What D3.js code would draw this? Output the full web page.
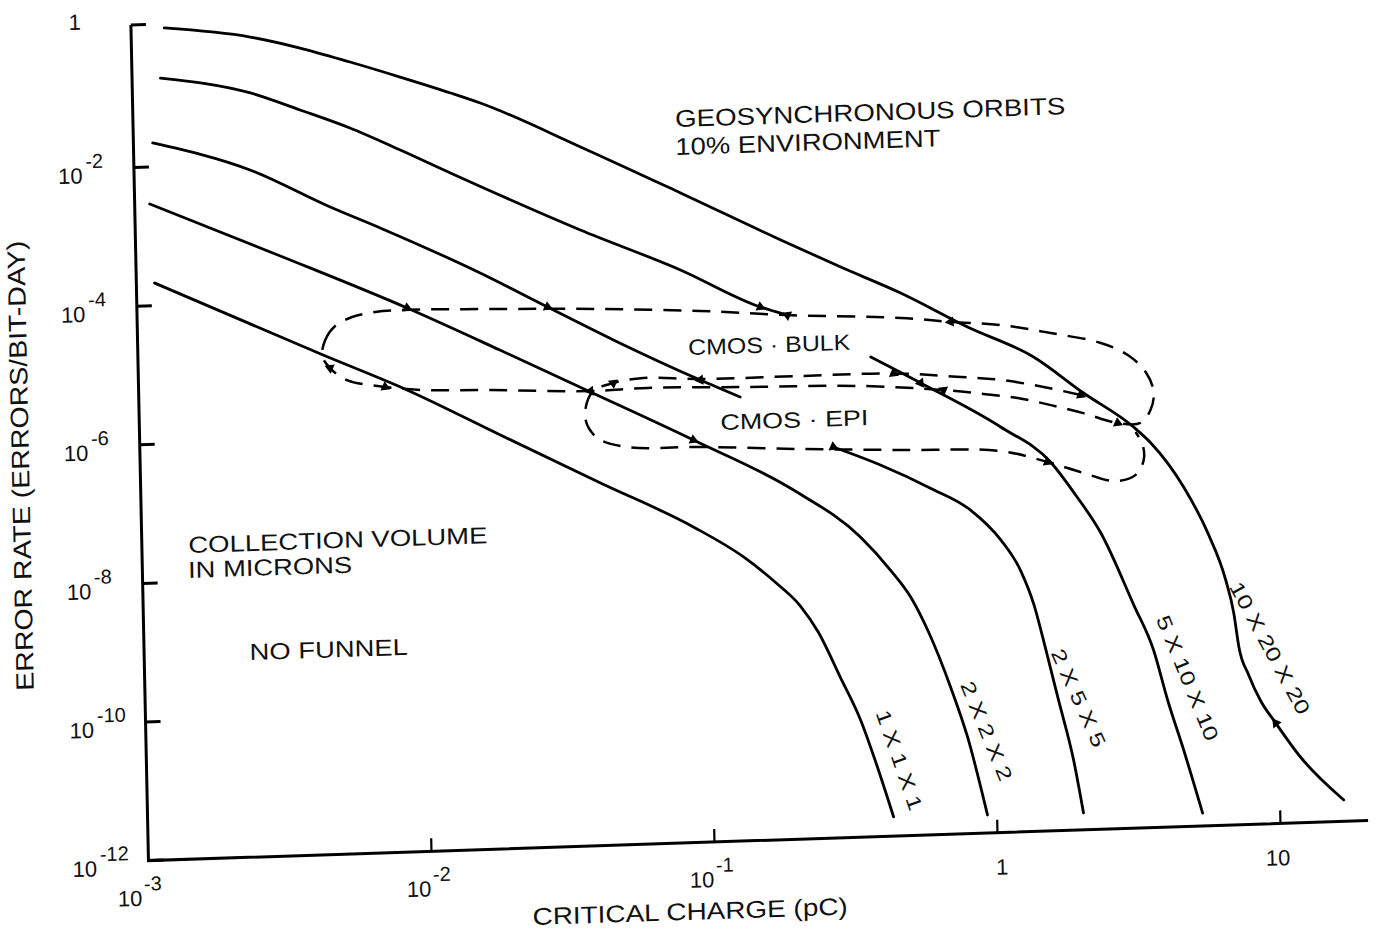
<!DOCTYPE html>
<html><head><meta charset="utf-8">
<script src="https://cdn.jsdelivr.net/npm/d3@7"></script>
<style>
html,body{margin:0;padding:0;background:#fff;}
svg{display:block;}
text{font-family:"Liberation Sans",Arial,sans-serif;fill:#111;}
</style></head><body>
<svg id="chart" width="1379" height="931"></svg>
<script>
// ---------------- data ----------------
const xTicks = [1e-3, 1e-2, 1e-1, 1, 10];
const xTickLabels = [["10","-3"],["10","-2"],["10","-1"],["1",""],["10",""]];
const yTicks = [1, 1e-2, 1e-4, 1e-6, 1e-8, 1e-10, 1e-12];
const yTickLabels = [["1",""],["10","-2"],["10","-4"],["10","-6"],["10","-8"],["10","-10"],["10","-12"]];

// critical charge (pC), error rate (errors/bit-day); [null,null] = gap in the drawn line
const curve10x20x20 = [[0.00131,1.0],[0.00263,0.673],[0.00394,0.442],[0.0059,0.263],[0.00885,0.151],[0.0133,0.0843],[0.0169,0.0585],[0.0379,0.0122],[0.0848,0.00237],[0.190,4.46e-4],[0.308,1.70e-4],[0.499,6.73e-5],[0.855,2.02e-5],[1.455,6.95e-6],[2.17,1.99e-6],[3.24,6.1e-7],[3.72,3.52e-7],[4.82,7.87e-8],[5.82,1.67e-8],[6.68,3.43e-9],[7.09,1.14e-9],[7.35,3.66e-10],[7.92,1.43e-10],[8.70,5.93e-11],[9.79,2.81e-11],[11.9,8.86e-12],[16.8,2.03e-12]];
const curve5x10x10 = [[0.00126,0.19],[0.00261,0.105],[0.0039,0.0565],[0.00583,0.0294],[0.00875,0.0134],[0.0131,0.00592],[0.0373,7.74e-4],[0.0836,1.84e-4],[0.159,4.93e-5],[0.198,3.66e-5],[null,null],[0.387,8.3e-6],[0.578,3.32e-6],[1.10,7.05e-7],[1.64,2.09e-7],[2.0,6.8e-8],[2.44,1.87e-8],[3.15,1.65e-9],[3.67,3.63e-10],[4.08,6.8e-11],[4.61,1.27e-11],[5.32,1.53e-12]];
const curve2x5x5 = [[0.00117,0.0222],[0.00257,0.00814],[0.0049,0.00218],[0.00733,0.00103],[0.0164,2.07e-4],[0.0282,6.22e-5],[0.0479,1.94e-5],[0.0964,4.66e-6],[0.133,2.54e-6],[null,null],[0.281,4.36e-7],[0.411,2.28e-7],[0.615,1.0e-7],[0.849,4.62e-8],[1.08,1.66e-8],[1.26,5.97e-9],[1.40,1.84e-9],[1.53,4.09e-10],[1.68,7.67e-11],[1.88,1.03e-11],[2.02,1.75e-12]];
const curve2x2x2 = [[0.00113,0.00294],[0.00324,4.53e-4],[0.0090,7.01e-5],[0.0190,1.57e-5],[0.0394,3.53e-6],[0.0902,6.41e-7],[0.202,1.09e-7],[0.345,2.13e-8],[0.438,6.89e-9],[0.514,2.75e-9],[0.591,8.44e-10],[0.700,1.33e-10],[0.797,2.48e-11],[0.925,1.82e-12]];
const curve1x1x1 = [[0.00116,2.12e-4],[0.00451,1.61e-5],[0.00887,4.61e-6],[0.0188,9.33e-7],[0.0421,1.70e-7],[0.0889,3.57e-8],[0.133,1.25e-8],[0.1743,4.9e-9],[0.2094,2.3e-9],[0.241,9.5e-10],[0.286,2.08e-10],[0.335,4.9e-11],[0.381,1.01e-11],[0.431,1.89e-12]];

const cmosBulk = [[0.00448,1.56e-5],[0.0046,2.65e-5],[0.0050,4.18e-5],[0.00575,5.52e-5],[0.00694,6.37e-5],[0.00851,6.6e-5],[0.0192,6.12e-5],[0.0433,5.5e-5],[0.0977,4.61e-5],[0.198,3.66e-5],[0.497,2.94e-5],[0.745,2.44e-5],[1.12,2.08e-5],[1.68,1.51e-5],[2.52,1.03e-5],[3.13,6.71e-6],[3.61,3.74e-6],[3.84,1.91e-6],[3.73,1.05e-6],[3.43,6.92e-7],[2.85,7.08e-7],[2.16,1.02e-6],[1.66,1.38e-6],[1.27,1.81e-6],[0.962,2.15e-6],[0.695,2.56e-6],[0.354,3.21e-6],[0.145,3.5e-6],[0.0627,3.79e-6],[0.0394,3.64e-6],[0.0175,4.2e-6],[0.0101,4.52e-6],[0.00743,5.21e-6],[0.00545,6.85e-6],[0.00476,1.04e-5]];
const cmosEpi = [[2.12,1.87e-6],[1.57,2.54e-6],[1.11,3.37e-6],[0.802,3.88e-6],[0.465,4.7e-6],[0.218,4.77e-6],[0.0966,4.82e-6],[0.0607,5.3e-6],[0.0475,4.64e-6],[0.040,3.52e-6],[0.0376,1.5e-6],[0.0413,7.62e-7],[0.0526,5.46e-7],[0.0953,5.04e-7],[0.215,4.23e-7],[0.486,3.66e-7],[1.09,3.18e-7],[1.60,2.1e-7],[2.14,1.4e-7],[2.77,1.03e-7],[3.27,1.24e-7],[3.50,2.02e-7],[3.48,3.32e-7],[3.29,5.14e-7]];

const markerPoints = [[0.159,4.93e-5],[0.198,3.66e-5],[0.745,2.44e-5],[2.12,1.87e-6],[2.85,7.08e-7],[0.465,4.7e-6],[0.578,3.32e-6],[0.695,2.56e-6],[0.0964,4.66e-6],[0.0475,4.64e-6],[0.0394,3.64e-6],[0.00743,5.21e-6],[0.00476,1.04e-5],[0.281,4.36e-7],[0.0902,6.41e-7],[1.60,2.1e-7],[0.0282,6.22e-5],[0.0090,7.01e-5],[9.79,2.81e-11]];
const markerTurns = [90,-90,0,90,90,90,0,-90,0,-90,0,90,-90,90,90,90,90,90,180];

const curveNames = ["1 X 1 X 1","2 X 2 X 2","2 X 5 X 5","5 X 10 X 10","10 X 20 X 20"];
const curveLabelAt = [[0.456,1.24e-11],[0.931,2.96e-11],[1.98,8.0e-11],[4.82,1.38e-10],[9.45,3.42e-10]];
const noteTexts = ["GEOSYNCHRONOUS ORBITS","10% ENVIRONMENT","CMOS · BULK","CMOS · EPI","COLLECTION VOLUME","IN MICRONS","NO FUNNEL"];
const noteAt = [[0.0822,0.0213],[0.0819,0.0084],[0.0879,1.08e-5],[0.1127,8.67e-7],[0.00146,2.61e-8],[0.00145,1.14e-8],[0.00236,6.98e-10]];
const xTitle = "CRITICAL CHARGE (pC)";
const yTitle = "ERROR RATE (ERRORS/BIT-DAY)";

// ---------------- drawing ----------------
const svg = d3.select("#chart");
const xMax = 20.4;
const x = d3.scaleLog().domain([1e-3, xMax]).range([0, 283 * Math.log10(xMax / 1e-3)]);
const y = d3.scaleLog().domain([1e-12, 1]).range([69.3 * 12, 0]);
const H = y(1e-12);

// the scanned original is slightly rotated; reproduce with an affine frame
const g = svg.append("g").attr("transform", "matrix(1,-0.0329,0.021,1,131,29)");

// axes
g.append("path")
  .attr("d", `M0,${y(1) - 4}V${H}H${x(xMax)}`)
  .attr("fill", "none").attr("stroke", "#000").attr("stroke-width", 3);
g.selectAll(".ytick").data(yTicks).join("line")
  .attr("x1", 0).attr("x2", 15)
  .attr("y1", d => d === 1 ? y(d) - 4 : y(d)).attr("y2", d => d === 1 ? y(d) - 4 : y(d))
  .attr("stroke", "#000").attr("stroke-width", 3);
g.selectAll(".xtick").data(xTicks.slice(1)).join("line")
  .attr("x1", d => x(d)).attr("x2", d => x(d))
  .attr("y1", H).attr("y2", H - 13)
  .attr("stroke", "#000").attr("stroke-width", 2.2);

// y tick labels
yTicks.forEach((t, i) => {
  const [base, exp] = yTickLabels[i];
  if (!exp) {
    g.append("text").attr("x", -50).attr("y", y(t) - 1).attr("text-anchor", "end")
      .attr("font-size", 22).text(base);
  } else {
    const tx = g.append("text").attr("x", -76).attr("y", y(t) + 14).attr("font-size", 22);
    tx.append("tspan").text(base);
    tx.append("tspan").attr("dx", 3).attr("dy", -15).attr("font-size", 20).text(exp);
  }
});
// x tick labels
xTicks.forEach((t, i) => {
  const [base, exp] = xTickLabels[i];
  if (!exp) {
    g.append("text").attr("x", x(t) + (t === 1 ? 4 : -3)).attr("y", H + 42)
      .attr("text-anchor", "middle").attr("font-size", 22).text(base);
  } else {
    const off = t === 1e-3 ? -6 : 0;
    g.append("text").attr("x", x(t) + off - 1).attr("y", H + 45)
      .attr("text-anchor", "end").attr("font-size", 22).text(base);
    g.append("text").attr("x", x(t) + off + 1).attr("y", H + 30)
      .attr("font-size", 20).text(exp);
  }
});

// axis titles
g.append("text").attr("x", x(0.0811)).attr("y", H + 77)
  .attr("text-anchor", "middle").attr("font-size", 24)
  .attr("textLength", 315).attr("lengthAdjust", "spacingAndGlyphs").text(xTitle);
g.append("text").attr("transform", `translate(-111,${y(1e-6) + 17}) rotate(-90)`)
  .attr("text-anchor", "middle").attr("font-size", 25)
  .attr("textLength", 450).attr("lengthAdjust", "spacingAndGlyphs").text(yTitle);

// curves
const line = d3.line()
  .defined(d => d[1] != null)
  .x(d => x(d[0])).y(d => y(d[1]))
  .curve(d3.curveMonotoneX);
[curve10x20x20, curve5x10x10, curve2x5x5, curve2x2x2, curve1x1x1].forEach(c => {
  g.append("path").attr("d", line(c))
    .attr("fill", "none").attr("stroke", "#000").attr("stroke-width", 2.8)
    .attr("stroke-linecap", "round");
});

// dashed CMOS regions
const loop = d3.line().x(d => x(d[0])).y(d => y(d[1])).curve(d3.curveCatmullRomClosed.alpha(0.5));
const open = d3.line().x(d => x(d[0])).y(d => y(d[1])).curve(d3.curveCatmullRom.alpha(0.5));
g.append("path").attr("d", loop(cmosBulk))
  .attr("fill", "none").attr("stroke", "#000").attr("stroke-width", 2.5)
  .attr("stroke-dasharray", "18,11");
g.append("path").attr("d", open(cmosEpi))
  .attr("fill", "none").attr("stroke", "#000").attr("stroke-width", 2.5)
  .attr("stroke-dasharray", "18,11");

// small arrow markers
const tri = d3.symbol().type(d3.symbolTriangle).size(45);
g.selectAll(".mk").data(markerPoints).join("path")
  .attr("d", tri)
  .attr("transform", (d, i) => `translate(${x(d[0])},${y(d[1])}) rotate(${markerTurns[i] + 25})`)
  .attr("fill", "#000");

// curve labels
const labelTurn = [72, 69, 67, 69, 63];
const labelLen = [105, 106, 106, 134, 148];
curveNames.forEach((s, i) => {
  const [cx, cy] = curveLabelAt[i];
  g.append("text")
    .attr("transform", `translate(${x(cx)},${y(cy)}) rotate(${labelTurn[i]})`)
    .attr("text-anchor", "middle").attr("dominant-baseline", "central")
    .attr("font-size", 20)
    .attr("textLength", labelLen[i]).attr("lengthAdjust", "spacingAndGlyphs")
    .text(s);
});

// notes
const noteSize = [24, 24, 22, 22, 23, 23, 23];
const noteLen = [390, 265, 162, 148, 299, 164, 158];
noteTexts.forEach((s, i) => {
  const [nx, ny] = noteAt[i];
  g.append("text").attr("x", x(nx)).attr("y", y(ny))
    .attr("font-size", noteSize[i])
    .attr("textLength", noteLen[i]).attr("lengthAdjust", "spacingAndGlyphs")
    .text(s);
});
</script>
</body></html>
